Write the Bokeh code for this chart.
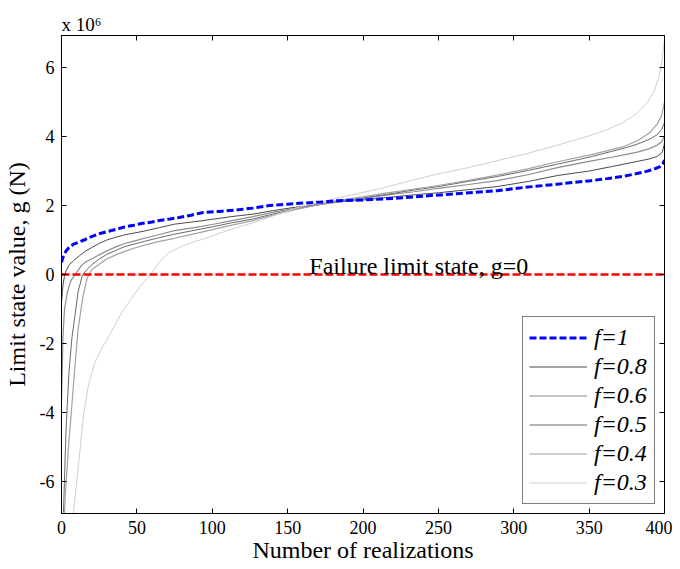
from bokeh.plotting import figure
from bokeh.models import (Range1d, LinearAxis, FixedTicker, Legend, LegendItem, Label, Title)
from bokeh.embed import file_html
from bokeh.resources import INLINE

# ---- data (g in units of 1e6 N) ----
x_f1 = [0, 1, 2, 3, 5, 8, 11, 15, 20, 25, 31, 37, 42, 48, 53, 60, 64, 72, 78, 86, 94, 105, 116, 127, 138, 150,
        160, 172, 183, 200, 222, 245, 267, 289, 306, 329, 351, 362, 373, 381, 388, 393, 397, 399, 400]
g_f1 = [0.35, 0.5, 0.6, 0.68, 0.78, 0.88, 0.93, 1.0, 1.1, 1.18, 1.25, 1.32, 1.38, 1.43, 1.48, 1.52, 1.56, 1.61,
        1.65, 1.72, 1.8, 1.83, 1.87, 1.93, 2.0, 2.04, 2.07, 2.1, 2.14, 2.16, 2.21, 2.29, 2.36, 2.43, 2.52, 2.62,
        2.72, 2.78, 2.85, 2.92, 2.99, 3.05, 3.13, 3.22, 3.32]

x_f08 = [0, 1, 2, 3, 5, 8, 12, 16, 20, 25, 30, 36, 42, 48, 55, 65, 75, 88, 100, 113, 127, 140, 155, 170, 183,
         200, 215, 234, 250, 270, 289, 310, 329, 350, 365, 373, 382, 390, 395, 398, 399, 400]
g_f08 = [-0.8, -0.3, -0.05, 0.1, 0.28, 0.4, 0.55, 0.68, 0.78, 0.9, 1.0, 1.08, 1.15, 1.2, 1.26, 1.36, 1.46, 1.53,
         1.6, 1.68, 1.75, 1.85, 1.95, 2.03, 2.1, 2.16, 2.23, 2.31, 2.37, 2.46, 2.55, 2.7, 2.87, 3.0, 3.13, 3.2,
         3.28, 3.35, 3.42, 3.52, 3.62, 3.8]

x_f06 = [0, 1, 2, 4, 6, 9, 13, 16, 20, 25, 30, 36, 42, 48, 55, 65, 75, 88, 100, 113, 127, 140, 155, 170, 183,
         200, 215, 234, 250, 270, 289, 310, 329, 350, 365, 373, 382, 390, 395, 398, 400]
g_f06 = [-3.7, -1.8, -1.0, -0.5, -0.2, 0.0, 0.25, 0.36, 0.45, 0.57, 0.68, 0.8, 0.9, 0.97, 1.05, 1.16, 1.27, 1.36,
         1.45, 1.56, 1.68, 1.8, 1.92, 2.02, 2.1, 2.2, 2.3, 2.4, 2.5, 2.61, 2.72, 2.9, 3.1, 3.28, 3.4, 3.47, 3.55,
         3.65, 3.75, 3.85, 4.0]

x_f05 = [0, 1.3, 3, 5, 7, 9, 11, 14, 17, 20, 25, 30, 36, 42, 48, 55, 65, 75, 88, 100, 113, 127, 140, 155, 170,
         183, 200, 215, 234, 250, 270, 289, 310, 329, 350, 365, 373, 382, 390, 395, 398, 400]
g_f05 = [-8.5, -6.9, -4.5, -2.8, -1.8, -1.17, -0.5, 0.0, 0.15, 0.28, 0.45, 0.58, 0.7, 0.81, 0.88, 0.96, 1.07, 1.17,
         1.28, 1.38, 1.5, 1.61, 1.75, 1.9, 2.02, 2.12, 2.22, 2.32, 2.45, 2.55, 2.7, 2.84, 3.02, 3.2, 3.4, 3.57,
         3.66, 3.78, 3.92, 4.05, 4.2, 4.4]

x_f04 = [0, 1, 2.4, 4.6, 6.5, 8.8, 11, 14, 17, 20, 25, 30, 36, 42, 48, 55, 65, 75, 88, 100, 113, 127, 140, 155,
         170, 183, 200, 215, 234, 250, 270, 289, 310, 329, 350, 365, 373, 382, 390, 395, 398, 400]
g_f04 = [-10.0, -8.0, -6.48, -5.03, -4.0, -2.72, -1.6, -0.7, -0.1, 0.14, 0.3, 0.45, 0.57, 0.67, 0.76, 0.85, 0.96,
         1.05, 1.18, 1.3, 1.43, 1.56, 1.72, 1.88, 2.02, 2.15, 2.25, 2.36, 2.48, 2.58, 2.73, 2.88, 3.07, 3.27,
         3.46, 3.62, 3.71, 3.88, 4.1, 4.35, 4.6, 5.0]

x_f03 = [0, 3, 5, 8, 11.3, 14.6, 17.9, 22.4, 26, 30, 35, 40, 48, 53, 59, 66, 72, 80, 88, 94, 105, 116, 127, 138,
         150, 160, 172, 183, 200, 215, 234, 250, 270, 289, 310, 329, 350, 362, 373, 381, 388, 393, 396, 398, 400]
g_f03 = [-14.0, -10.0, -8.5, -6.87, -5.52, -4.07, -3.2, -2.52, -2.2, -1.9, -1.5, -1.1, -0.6, -0.3, 0.0, 0.42, 0.66,
         0.82, 0.95, 1.03, 1.2, 1.36, 1.5, 1.66, 1.85, 1.98, 2.1, 2.22, 2.38, 2.53, 2.75, 2.92, 3.1, 3.3, 3.52,
         3.75, 4.02, 4.2, 4.42, 4.65, 4.95, 5.3, 5.7, 6.1, 6.8]

limit_x = [0, 400]
limit_g = [0, 0]

x_ticks = [0, 50, 100, 150, 200, 250, 300, 350, 400]
y_ticks = [-6, -4, -2, 0, 2, 4, 6]
y_tick_labels = {-6: "-6", -4: "-4", -2: "-2", 0: "0", 2: "2", 4: "4", 6: "6"}

FONT = "Liberation Serif"

p = figure(frame_width=603, frame_height=478, output_backend="svg", toolbar_location=None,
           x_range=Range1d(0, 400), y_range=Range1d(-6.93, 6.93),
           min_border_left=57, min_border_top=35, min_border_right=8, min_border_bottom=55)
p.background_fill_color = "white"
p.border_fill_color = "white"
p.outline_line_color = "black"
p.outline_line_width = 1
p.xgrid.visible = False
p.ygrid.visible = False

def style_axis(ax, ticks, show_labels=True):
    ax.ticker = FixedTicker(ticks=ticks)
    ax.minor_tick_line_color = None
    ax.major_tick_in = 5
    ax.major_tick_out = 0
    ax.axis_line_color = "black"
    ax.major_tick_line_color = "black"
    ax.major_label_text_font = FONT
    ax.major_label_text_font_size = "18px"
    ax.major_label_text_color = "black"
    if not show_labels:
        ax.major_label_overrides = {t: "" for t in ticks}
        ax.major_label_standoff = 0

style_axis(p.xaxis[0], x_ticks)
style_axis(p.yaxis[0], y_ticks)
p.yaxis[0].major_label_overrides = y_tick_labels
p.xaxis[0].major_label_standoff = 7
p.yaxis[0].major_label_standoff = 7
p.xaxis[0].axis_label = "Number of realizations"
p.yaxis[0].axis_label = "Limit state value, g (N)"
for ax in (p.xaxis[0], p.yaxis[0]):
    ax.axis_label_text_font = FONT
    ax.axis_label_text_font_size = "24px"
    ax.axis_label_text_font_style = "normal"
    ax.axis_label_text_color = "black"
p.xaxis[0].axis_label_standoff = 0
p.yaxis[0].axis_label_standoff = 7

top_ax = LinearAxis()
style_axis(top_ax, x_ticks, show_labels=False)
p.add_layout(top_ax, "above")
right_ax = LinearAxis()
style_axis(right_ax, y_ticks, show_labels=False)
p.add_layout(right_ax, "right")

r08 = p.line(x_f08, g_f08, line_color="#4a4a4a", line_width=1)
r06 = p.line(x_f06, g_f06, line_color="#8c8c8c", line_width=1.2)
r05 = p.line(x_f05, g_f05, line_color="#6a6a6a", line_width=1)
r04 = p.line(x_f04, g_f04, line_color="#a2a2a2", line_width=1.2)
r03 = p.line(x_f03, g_f03, line_color="#cfcfcf", line_width=1)
r1 = p.line(x_f1, g_f1, line_color="#0000ff", line_width=3, line_dash="7 3")
p.line(limit_x, limit_g, line_color="#ff0000", line_width=2.5, line_dash="8 3")

legend = Legend(items=[
    LegendItem(label="f=1", renderers=[r1]),
    LegendItem(label="f=0.8", renderers=[r08]),
    LegendItem(label="f=0.6", renderers=[r06]),
    LegendItem(label="f=0.5", renderers=[r05]),
    LegendItem(label="f=0.4", renderers=[r04]),
    LegendItem(label="f=0.3", renderers=[r03]),
], location="bottom_right")
legend.label_text_font = FONT
legend.label_text_font_style = "italic"
legend.label_text_font_size = "24px"
legend.label_text_color = "black"
legend.glyph_width = 58
legend.glyph_height = 29
legend.label_height = 29
legend.label_width = 54
legend.spacing = 0
legend.padding = 6
legend.margin = 9
legend.label_standoff = 7
legend.border_line_color = "black"
legend.border_line_width = 1
legend.background_fill_alpha = 1
p.add_layout(legend, "center")

p.add_layout(Label(x=237, y=0.25, text="Failure limit state, g=0", text_align="center",
                   text_baseline="alphabetic", text_font=FONT, text_font_size="24px", text_color="black"))

scale_title = Title(text="x 10\u2076", align="left", text_font=FONT, text_font_size="19px",
                    text_font_style="normal", text_color="black", standoff=2, offset=0)
p.add_layout(scale_title, "above")

open("out.html", "w").write(file_html(p, INLINE))
